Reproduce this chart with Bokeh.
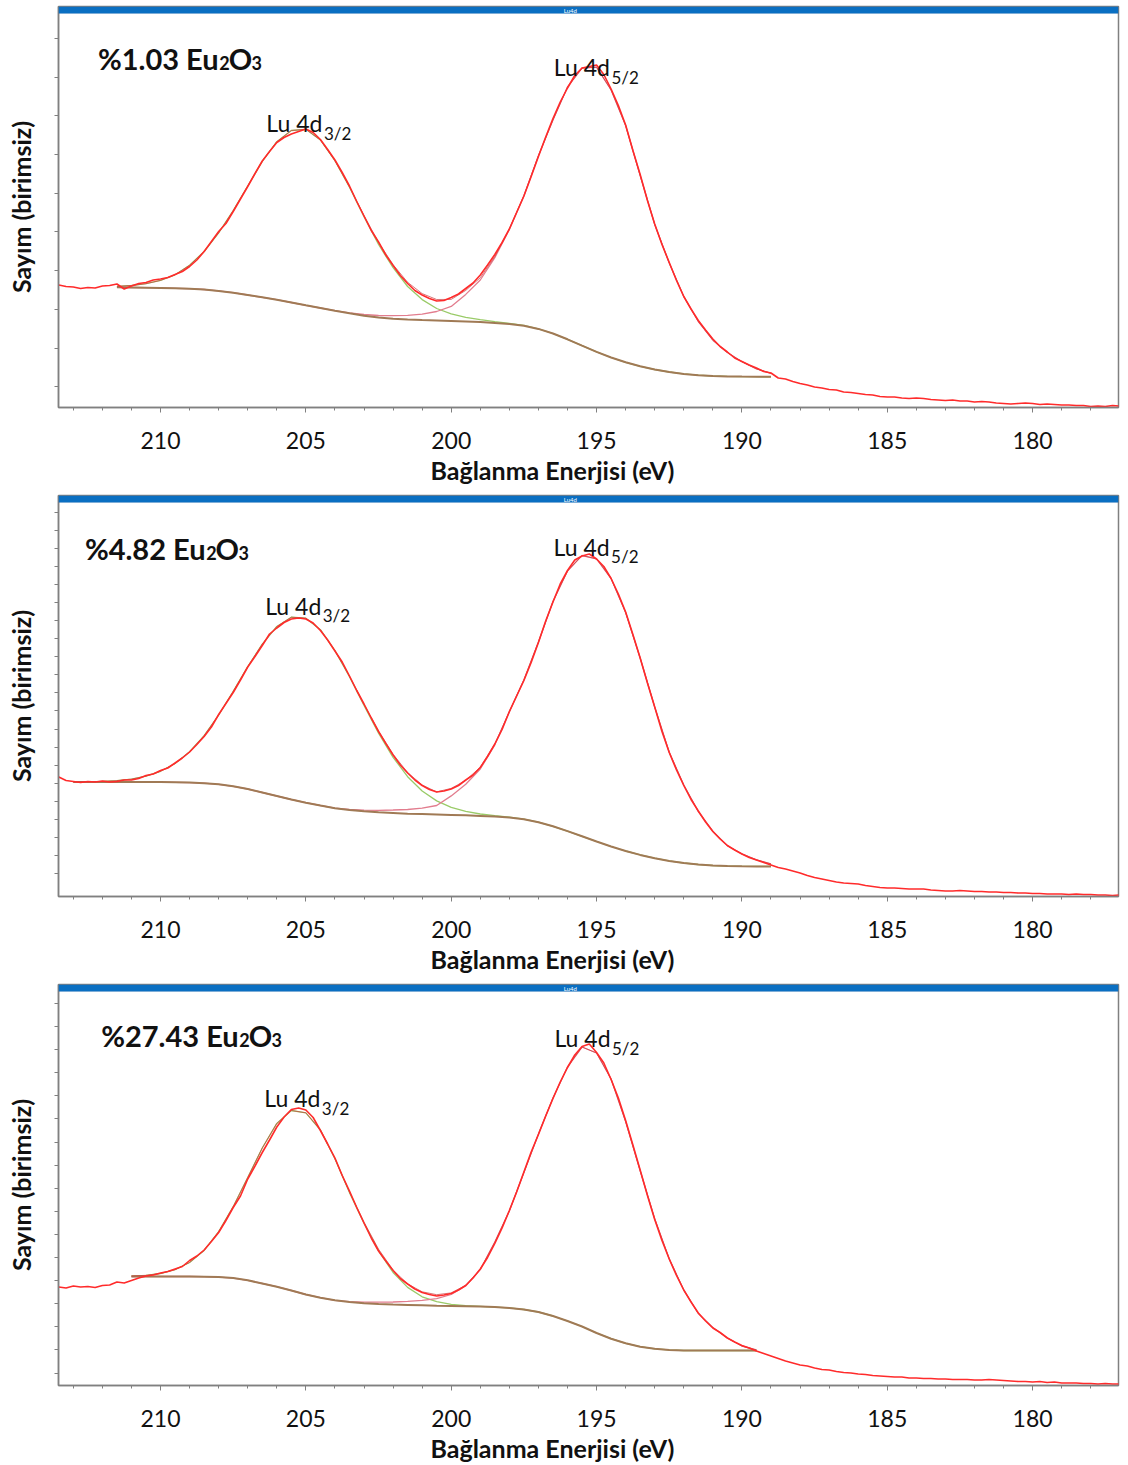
import numpy as np
from bokeh.plotting import figure
from bokeh.layouts import column
from bokeh.models import Range1d, FixedTicker, Label, BoxAnnotation, Title
from bokeh.embed import file_html
from bokeh.resources import INLINE

nan = float("nan")

# Binding-energy grids (eV): survey scan step 0.25 eV, fit model step 0.5 eV
energy_scan = np.round(np.arange(213.5, 176.99, -0.25), 2)
energy_fit = np.round(np.arange(213.0, 188.99, -0.5), 1)

x_ticks = [210, 205, 200, 195, 190, 185, 180]
x_minor = list(range(178, 214))

# ---------------- %1.03 Eu2O3 ----------------
counts_103 = [
    122.5, 121.0,
    120.5, 119.0, 120.0, 119.5,
    121.5, 122.0, 123.5, 118.5,
    121.5, 124.0, 125.0, 127.5,
    128.5, 130.0, 133.0, 136.0,
    141.0, 147.5, 156.0, 166.0,
    176.0, 184.0, 196.0, 208.5,
    221.0, 234.0, 246.5, 256.0,
    265.0, 270.0, 273.5, 276.0,
    278.5, 275.0, 268.0, 258.0,
    247.5, 235.0, 221.5, 206.0,
    191.5, 177.0, 165.5, 152.5,
    142.0, 132.0, 124.0, 117.0,
    112.5, 109.0, 106.5, 107.0,
    110.0, 113.5, 119.0, 124.5,
    132.5, 142.5, 153.0, 165.0,
    178.5, 195.0, 211.5, 231.0,
    251.0, 270.5, 289.0, 305.5,
    319.5, 332.0, 339.5, 341.0,
    342.5, 333.0, 318.5, 302.0,
    282.5, 257.0, 233.0, 207.0,
    183.5, 163.0, 145.0, 127.0,
    111.0, 98.5, 87.0, 77.5,
    68.5, 61.0, 55.5, 49.5,
    46.0, 42.5, 39.5, 36.0,
    34.5, 29.5, 28.5, 26.0,
    24.0, 22.5, 20.5, 19.5,
    18.0, 17.5, 15.5, 15.0,
    14.0, 13.0, 12.5, 11.0,
    10.5, 10.5, 9.5, 9.0,
    9.5, 9.0, 8.0, 7.5,
    7.0, 7.5, 6.5, 6.5,
    5.5, 6.0, 5.5, 4.5,
    4.0, 3.5, 4.0, 4.5,
    4.0, 3.0, 3.5, 3.0,
    2.5, 2.5, 2.0, 2.0,
    1.0, 1.5, 1.0, 2.0,
    1.5,
]
shirley_103 = [
    nan, nan, nan, 120.2, 120.0, 119.8, 119.6, 119.2, 118.8, 118.0,
    116.6, 114.8, 112.5, 110.2, 107.8, 105.0, 102.2, 99.5, 96.8, 94.2,
    91.8, 90.0, 88.8, 88.0, 87.4, 87.0, 86.6, 86.1, 85.5, 84.5,
    83.5, 81.8, 78.6, 74.0, 68.2, 61.8, 55.6, 50.0, 45.2, 41.2,
    38.0, 35.5, 33.6, 32.3, 31.5, 31.1, 30.9, 30.8, 30.7,
]
lu4d32_103 = [
    nan, nan, nan, 1.0, 2.0, 4.0, 7.5, 13.5, 23.5, 38.0,
    58.0, 82.0, 109.0, 136.0, 158.0, 172.0, 176.0, 168.0, 150.0, 126.0,
    99.0, 73.0, 51.0, 33.0, 20.5, 12.0, 7.0, 4.0, 2.3, 1.3,
    0.7, 0.3, 0, 0, 0, 0, 0, 0, 0, 0,
    0, 0, 0, 0, 0, 0, 0, 0, 0,
]
lu4d52_103 = [
    nan, nan, nan, 0, 0, 0, 0, 0, 0, 0,
    0, 0, 0, 0, 0, 0, 0, 0, 0, 0.5,
    1.2, 2.0, 3.0, 4.2, 6.0, 9.0, 14.5, 27.0, 42.0, 65.3,
    94.5, 129.7, 173.2, 213.5, 252.3, 277.7, 284.7, 267.5, 236.8, 190.8,
    145.0, 109.0, 77.4, 53.7, 35.8, 23.9, 14.9, 7.9, 3.5,
]

# ---------------- %4.82 Eu2O3 ----------------
counts_482 = [
    119.5, 116.0,
    115.0, 114.0, 115.0, 114.5,
    115.5, 114.5, 115.0, 116.5,
    116.5, 118.0, 121.0, 122.5,
    126.0, 128.5, 133.5, 138.5,
    144.5, 152.0, 160.0, 169.5,
    182.0, 193.0, 204.0, 216.5,
    229.5, 240.0, 251.0, 262.5,
    268.5, 274.0, 277.5, 278.5,
    277.5, 273.5, 266.0, 256.5,
    245.5, 234.5, 220.5, 206.0,
    192.5, 178.5, 165.0, 153.0,
    141.5, 131.5, 123.5, 116.5,
    111.0, 107.0, 104.5, 105.5,
    107.5, 111.0, 116.5, 121.5,
    129.0, 140.0, 152.5, 167.0,
    185.0, 200.5, 216.0, 234.0,
    254.0, 275.5, 294.5, 312.5,
    326.0, 336.5, 340.5, 342.5,
    337.5, 330.0, 318.0, 302.5,
    284.5, 262.0, 238.5, 213.5,
    189.5, 165.0, 144.0, 126.5,
    111.0, 97.0, 85.5, 74.5,
    65.0, 57.5, 51.0, 46.5,
    42.5, 39.0, 36.5, 34.0,
    31.5, 29.0, 27.5, 25.5,
    23.5, 21.0, 19.0, 17.5,
    16.0, 14.5, 13.5, 13.0,
    12.5, 11.0, 10.0, 9.0,
    8.5, 8.5, 8.0, 7.5,
    7.5, 7.5, 6.5, 6.0,
    5.5, 5.5, 6.0, 5.5,
    5.0, 5.0, 4.5, 4.5,
    4.0, 4.0, 3.5, 3.5,
    3.0, 3.0, 2.5, 2.5,
    2.5, 2.0, 2.5, 2.0,
    2.0, 1.5, 1.5, 1.0,
    1.5,
]
shirley_482 = [
    114.5, 114.5, 114.5, 114.5, 114.5, 114.5, 114.4, 114.2, 113.9, 113.3,
    112.2, 110.2, 107.5, 104.0, 100.5, 97.0, 93.8, 91.0, 88.3, 86.5,
    85.2, 84.2, 83.5, 82.8, 82.4, 82.0, 81.6, 81.2, 80.6, 80.0,
    79.0, 77.2, 74.3, 70.2, 65.4, 60.2, 55.0, 50.0, 45.5, 41.6,
    38.3, 35.6, 33.5, 32.0, 31.0, 30.5, 30.2, 30.1, 30.1,
]
lu4d32_482 = [
    0.1, 0.3, 0.6, 1.4, 2.9, 5.8, 10.8, 18.8, 30.9, 47.6,
    69.3, 94.9, 122.3, 148.4, 169.5, 182.3, 184.5, 175.8, 157.6, 133.2,
    105.8, 79.2, 55.7, 37.0, 23.1, 13.6, 7.5, 3.9, 1.9, 0.9,
    0.4, 0.2, 0, 0, 0, 0, 0, 0, 0, 0,
    0, 0, 0, 0, 0, 0, 0, 0, 0,
]
lu4d52_482 = [
    0, 0, 0, 0, 0, 0, 0, 0, 0, 0,
    0, 0, 0, 0, 0, 0, 0, 0, 0, 0.5,
    1.2, 2.0, 3.0, 4.2, 6.0, 9.0, 19.0, 31.0, 46.9, 71.7,
    105.5, 139.3, 180.2, 224.8, 260.1, 280.8, 282.6, 268.0, 238.5, 196.9,
    151.2, 108.6, 78.0, 53.0, 34.3, 20.3, 12.4, 6.6, 2.5,
]

# ---------------- %27.43 Eu2O3 ----------------
counts_2743 = [
    98.5, 97.5,
    99.5, 98.5, 99.0, 98.0,
    100.0, 100.5, 103.5, 102.5,
    105.0, 107.5, 109.5, 110.5,
    112.5, 114.0, 116.5, 119.0,
    125.0, 129.5, 135.5, 144.0,
    153.0, 165.0, 178.0, 189.5,
    206.5, 219.5, 233.0, 245.5,
    258.5, 268.5, 276.0, 277.5,
    275.5, 268.0, 255.0, 241.5,
    227.5, 210.0, 194.5, 178.0,
    162.5, 147.5, 134.5, 124.5,
    115.0, 107.0, 101.5, 96.5,
    93.0, 91.0, 89.5, 90.5,
    92.0, 95.5, 100.0, 107.5,
    116.5, 128.0, 142.0, 157.5,
    175.0, 193.5, 213.5, 233.5,
    251.0, 269.5, 287.0, 303.5,
    318.0, 330.5, 339.0, 341.5,
    333.0, 322.5, 306.0, 287.5,
    265.0, 240.5, 215.5, 190.0,
    166.0, 145.0, 126.5, 110.0,
    95.5, 83.5, 72.5, 64.5,
    57.5, 53.0, 47.5, 43.5,
    40.0, 37.5, 34.5, 32.0,
    29.5, 27.0, 24.5, 22.5,
    20.5, 19.5, 17.5, 16.0,
    15.5, 14.0, 13.0, 12.5,
    11.5, 11.0, 10.0, 9.5,
    9.0, 8.5, 8.5, 7.5,
    7.5, 7.0, 7.0, 6.5,
    6.5, 6.0, 6.0, 6.0,
    5.5, 5.5, 6.0, 5.5,
    5.0, 4.5, 4.0, 4.0,
    3.5, 4.0, 3.0, 3.5,
    2.5, 2.5, 2.5, 2.0,
    2.0, 1.5, 2.0, 1.5,
    1.5,
]
shirley_2743 = [
    nan, nan, nan, nan, 109.0, 109.0, 109.0, 109.0, 109.0, 108.8,
    108.4, 107.4, 105.2, 102.0, 98.8, 95.0, 91.0, 87.8, 85.2, 83.5,
    82.3, 81.6, 81.0, 80.6, 80.2, 79.8, 79.5, 79.2, 78.9, 78.4,
    77.6, 76.0, 73.5, 69.5, 64.5, 59.0, 52.5, 46.8, 42.2, 38.8,
    36.7, 35.6, 35.0, 35.0, 35.0, 35.0, 35.0, 35.0, nan,
]
lu4d32_2743 = [
    nan, nan, nan, nan, 0.5, 1.2, 3.0, 6.8, 14.0, 26.3,
    45.4, 71.4, 102.8, 135.5, 163.3, 180.0, 181.7, 167.7, 141.6, 109.4,
    80.0, 53.0, 32.0, 17.5, 8.5, 4.0, 1.6, 0.6, 0.2, 0,
    0, 0, 0, 0, 0, 0, 0, 0, 0, 0,
    0, 0, 0, 0, 0, 0, 0, 0, nan,
]
lu4d52_2743 = [
    nan, nan, nan, nan, 0, 0, 0, 0, 0, 0,
    0, 0, 0, 0, 0, 0, 0, 0, 0, 0.4,
    1.0, 1.7, 2.5, 3.5, 5.0, 7.0, 11.5, 20.5, 37.0, 65.0,
    97.0, 137.0, 178.0, 218.0, 254.0, 279.5, 280.0, 259.7, 221.8, 176.0,
    130.0, 91.0, 60.5, 37.0, 23.0, 12.5, 4.5, 0.5, nan,
]

FONT = "Lato"
INK = "#111111"
FRAME = "#808080"


def text(p, x, y, s, size, bold=False, align="left"):
    p.add_layout(Label(x=x, y=y, text=s, text_font=FONT, text_font_size=f"{size}px",
                       text_font_style="bold" if bold else "normal", text_color=INK,
                       text_align=align, text_baseline="alphabetic"))


def panel(counts, shirley, lu32, lu52, y_ticks, sample, title_at, lbl32, lbl52, height):
    p = figure(width=1128, height=height, output_backend="svg", toolbar_location=None,
               x_range=Range1d(213.51, 177.045), y_range=Range1d(0, 401),
               min_border_left=58, min_border_right=10, min_border_top=6,
               min_border_bottom=height - 407)
    p.background_fill_color = "white"
    p.border_fill_color = "white"
    p.grid.visible = False
    p.outline_line_color = FRAME
    p.outline_line_width = 1.5

    xa = p.xaxis[0]
    xa.ticker = FixedTicker(ticks=x_ticks, minor_ticks=x_minor)
    xa.major_label_text_font = FONT
    xa.major_label_text_font_size = "23px"
    xa.major_label_text_color = INK
    xa.major_label_standoff = 19
    xa.major_tick_out = 5
    xa.major_tick_in = 0
    xa.minor_tick_out = 3
    xa.minor_tick_in = 0
    xa.major_tick_line_color = FRAME
    xa.minor_tick_line_color = FRAME

    # count axis: unlabelled tick marks only
    ya = p.yaxis[0]
    ya.ticker = FixedTicker(ticks=[], minor_ticks=y_ticks)
    ya.minor_tick_out = 4
    ya.minor_tick_in = 0
    ya.minor_tick_line_color = FRAME
    ya.major_tick_out = 4
    ya.major_tick_line_color = None
    ya.major_label_standoff = 0
    ya.axis_label = "Sayım (birimsiz)"
    ya.axis_label_text_font = FONT
    ya.axis_label_text_font_size = "25px"
    ya.axis_label_text_font_style = "bold"
    ya.axis_label_text_color = INK
    ya.axis_label_standoff = 19

    for ax in (xa, ya):
        ax.axis_line_color = FRAME
        ax.axis_line_width = 1.5

    p.add_layout(Title(text="Bağlanma Enerjisi (eV)", align="left", offset=372,
                       standoff=2, text_font=FONT, text_font_size="25px",
                       text_font_style="bold", text_color=INK), "below")

    bg = np.array(shirley, dtype=float)
    c32 = bg + np.array(lu32, dtype=float)
    c52 = bg + np.array(lu52, dtype=float)
    envelope = bg + np.array(lu32, dtype=float) + np.array(lu52, dtype=float)

    p.line(energy_fit, c32, color="#9ACB68", line_width=1.3)
    p.line(energy_fit, c52, color="#E27D8E", line_width=1.3)
    p.line(energy_fit, bg, color="#A07A55", line_width=2.0)
    p.line(energy_fit, envelope, color="#C83A3F", line_width=1.0, alpha=0.7)
    p.line(energy_scan, counts, color="#FF2B2B", line_width=1.6)

    # window header bar
    p.add_layout(BoxAnnotation(bottom=394, top=401, fill_color="#0A6FC2", fill_alpha=1.0,
                               line_color="#5A7FA8", line_width=0.5))
    p.add_layout(Label(x=195.9, y=397.5, text="Lu4d", text_font=FONT, text_font_size="6px",
                       text_color="white", text_align="center", text_baseline="middle"))

    # sample title: "%x.xx Eu" + subscript 2 + "O" + subscript 3
    xe, yb = title_at
    text(p, xe, yb, f"%{sample} Eu", 29, bold=True, align="right")
    text(p, xe - 0.02, yb - 4.5, "2", 18, bold=True)
    text(p, xe - 0.345, yb, "O", 29, bold=True)
    text(p, xe - 1.13, yb - 4.5, "3", 18, bold=True)

    # peak labels
    for (xl, ya_, yb_sub, sub) in (lbl32 + ("3/2",), lbl52 + ("5/2",)):
        text(p, xl, ya_, "Lu 4d", 23, align="right")
        text(p, xl - 0.05, yb_sub, sub, 17)
    return p


p1 = panel(counts_103, shirley_103, lu4d32_103, lu4d52_103,
           [20.8 + 38.7 * k for k in range(10)], "1.03", (208.0, 349.5),
           (204.43, 284.5, 274.5), (194.54, 340.3, 330.3), 489)
p2 = panel(counts_482, shirley_482, lu4d32_482, lu4d52_482,
           [23.1 + 18.05 * k for k in range(21)], "4.82", (208.45, 347.7),
           (204.47, 290.4, 281.3), (194.55, 350.0, 339.6), 489)
p3 = panel(counts_2743, shirley_2743, lu4d32_2743, lu4d52_2743,
           [12.5 + 23.1 * k for k in range(17)], "27.43", (207.31, 350.0),
           (204.5, 287.7, 276.7), (194.52, 348.0, 336.7), 487)

layout = column(p1, p2, p3, spacing=0)
open("out.html", "w").write(file_html(layout, INLINE))
